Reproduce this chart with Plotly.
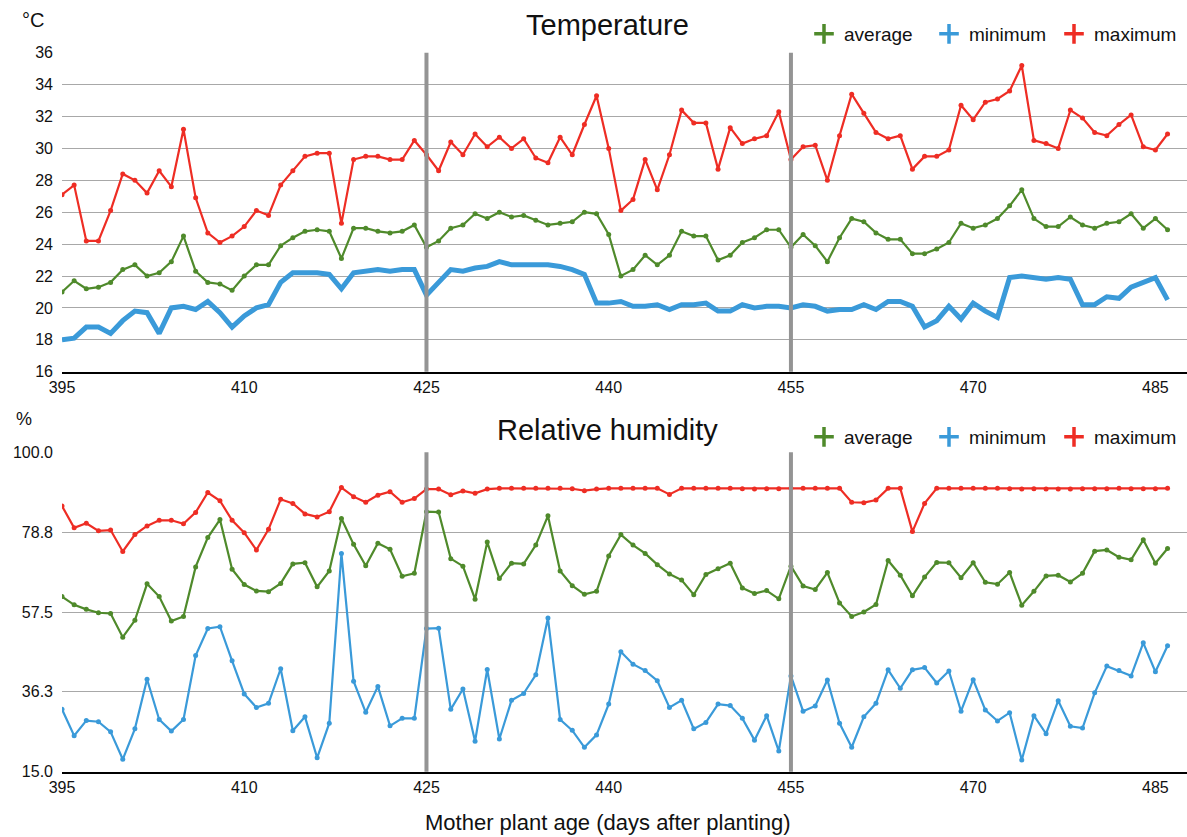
import plotly.graph_objects as go

# ---- data -------------------------------------------------------------
days = list(range(395, 487))

temp_max = [
    27.1, 27.7, 24.2, 24.2, 26.1, 28.4, 28.0, 27.2, 28.6, 27.6,
    31.2, 26.9, 24.7, 24.1, 24.5, 25.1, 26.1, 25.8, 27.7, 28.6,
    29.5, 29.7, 29.7, 25.3, 29.3, 29.5, 29.5, 29.3, 29.3, 30.5,
    29.6, 28.6, 30.4, 29.6, 30.9, 30.1, 30.7, 30.0, 30.6, 29.4,
    29.1, 30.7, 29.6, 31.5, 33.3, 30.0, 26.1, 26.8, 29.3, 27.4,
    29.6, 32.4, 31.6, 31.6, 28.7, 31.3, 30.3, 30.6, 30.8, 32.3,
    29.3, 30.1, 30.2, 28.0, 30.8, 33.4, 32.2, 31.0, 30.6, 30.8,
    28.7, 29.5, 29.5, 29.9, 32.7, 31.8, 32.9, 33.1, 33.6, 35.2,
    30.5, 30.3, 30.0, 32.4, 31.9, 31.0, 30.8, 31.5, 32.1, 30.1,
    29.9, 30.9,
]
temp_avg = [
    21.0, 21.7, 21.2, 21.3, 21.6, 22.4, 22.7, 22.0, 22.2, 22.9,
    24.5, 22.3, 21.6, 21.5, 21.1, 22.0, 22.7, 22.7, 23.9, 24.4,
    24.8, 24.9, 24.8, 23.1, 25.0, 25.0, 24.8, 24.7, 24.8, 25.2,
    23.8, 24.2, 25.0, 25.2, 25.9, 25.6, 26.0, 25.7, 25.8, 25.5,
    25.2, 25.3, 25.4, 26.0, 25.9, 24.6, 22.0, 22.4, 23.3, 22.7,
    23.3, 24.8, 24.5, 24.5, 23.0, 23.3, 24.1, 24.4, 24.9, 24.9,
    23.8, 24.6, 23.9, 22.9, 24.4, 25.6, 25.4, 24.7, 24.3, 24.3,
    23.4, 23.4, 23.7, 24.1, 25.3, 25.0, 25.2, 25.6, 26.4, 27.4,
    25.6, 25.1, 25.1, 25.7, 25.2, 25.0, 25.3, 25.4, 25.9, 25.0,
    25.6, 24.9,
]
temp_min = [
    18.0, 18.1, 18.8, 18.8, 18.4, 19.2, 19.8, 19.7, 18.4, 20.0,
    20.1, 19.9, 20.4, 19.7, 18.8, 19.5, 20.0, 20.2, 21.6, 22.2,
    22.2, 22.2, 22.1, 21.2, 22.2, 22.3, 22.4, 22.3, 22.4, 22.4,
    20.8, 21.6, 22.4, 22.3, 22.5, 22.6, 22.9, 22.7, 22.7, 22.7,
    22.7, 22.6, 22.4, 22.1, 20.3, 20.3, 20.4, 20.1, 20.1, 20.2,
    19.9, 20.2, 20.2, 20.3, 19.8, 19.8, 20.2, 20.0, 20.1, 20.1,
    20.0, 20.2, 20.1, 19.8, 19.9, 19.9, 20.2, 19.9, 20.4, 20.4,
    20.1, 18.8, 19.2, 20.1, 19.3, 20.3, 19.8, 19.4, 21.9, 22.0,
    21.9, 21.8, 21.9, 21.8, 20.2, 20.2, 20.7, 20.6, 21.3, 21.6,
    21.9, 20.5,
]

rh_max = [
    85.7, 79.9, 81.1, 79.1, 79.3, 73.6, 78.1, 80.4, 81.9, 81.9,
    81.0, 84.0, 89.3, 87.1, 81.9, 78.6, 74.0, 79.5, 87.5, 86.4,
    83.6, 82.8, 84.2, 90.6, 88.2, 86.7, 88.6, 89.5, 86.7, 87.7,
    90.2, 90.2, 88.7, 89.7, 89.1, 90.2, 90.4, 90.4, 90.4, 90.4,
    90.4, 90.4, 90.3, 89.8, 90.2, 90.4, 90.4, 90.4, 90.4, 90.4,
    88.8, 90.4, 90.4, 90.4, 90.4, 90.4, 90.3, 90.2, 90.3, 90.3,
    90.4, 90.4, 90.4, 90.4, 90.4, 86.7, 86.6, 87.3, 90.4, 90.4,
    78.9, 86.4, 90.4, 90.4, 90.4, 90.4, 90.4, 90.4, 90.3, 90.2,
    90.3, 90.2, 90.2, 90.2, 90.3, 90.3, 90.3, 90.4, 90.3, 90.3,
    90.3, 90.4,
]
rh_avg = [
    61.6, 59.4, 58.2, 57.3, 57.1, 50.8, 55.3, 65.0, 61.6, 55.1,
    56.3, 69.5, 77.3, 82.1, 68.9, 64.8, 63.1, 62.9, 65.1, 70.3,
    70.6, 64.2, 68.4, 82.4, 75.5, 69.8, 75.8, 74.2, 67.0, 67.8,
    84.2, 84.1, 71.7, 69.7, 60.9, 76.1, 66.4, 70.5, 70.3, 75.3,
    83.1, 68.4, 64.5, 62.2, 63.0, 72.4, 78.1, 75.3, 73.1, 70.1,
    67.6, 66.0, 62.1, 67.5, 69.0, 70.5, 63.9, 62.4, 63.2, 61.0,
    69.7, 64.4, 63.5, 68.0, 59.9, 56.3, 57.5, 59.5, 71.2, 67.3,
    61.8, 66.8, 70.7, 70.6, 66.6, 70.6, 65.4, 64.9, 68.0, 59.3,
    63.0, 67.1, 67.3, 65.5, 67.8, 73.7, 74.0, 72.1, 71.4, 76.7,
    70.5, 74.4,
]
rh_min = [
    31.6, 24.6, 28.6, 28.3, 25.6, 18.3, 26.4, 39.6, 28.9, 25.8,
    28.9, 45.9, 53.1, 53.6, 44.5, 35.7, 32.1, 33.2, 42.4, 25.9,
    29.6, 18.7, 27.9, 73.1, 39.1, 30.8, 37.7, 27.2, 29.2, 29.2,
    53.1, 53.2, 31.6, 37.0, 23.1, 42.2, 23.7, 34.0, 35.8, 40.8,
    55.9, 28.9, 26.0, 21.5, 24.8, 33.0, 46.9, 43.6, 41.9, 39.2,
    32.1, 34.0, 26.4, 28.1, 33.0, 32.6, 29.2, 23.4, 29.9, 20.5,
    40.5, 31.1, 32.5, 39.4, 27.9, 21.5, 29.6, 33.2, 42.1, 37.2,
    42.1, 42.7, 38.6, 41.8, 31.1, 39.5, 31.4, 28.5, 30.7, 18.1,
    29.9, 25.1, 33.9, 27.1, 26.6, 36.0, 43.1, 41.9, 40.5, 49.3,
    41.6, 48.5,
]

x_ticks = [395, 410, 425, 440, 455, 470, 485]
rh_tickvals = [15.0, 36.25, 57.5, 78.75, 100.0]
rh_ticktext = ["15.0", "36.3", "57.5", "78.8", "100.0"]
stage_days = [425, 455]
series_names = ["average", "minimum", "maximum"]

# ---- styling ----------------------------------------------------------
W, H = 1187, 837
FONT = "Liberation Sans, Arial, sans-serif"
TXT = "#111111"
GREEN = "#4f8a2b"
BLUE = "#3a9ad9"
RED = "#ee2d24"
GRID = "#a8a8a8"
colors = {"average": GREEN, "minimum": BLUE, "maximum": RED}


def py(px):
    """Convert a pixel row (from the top) to a paper fraction."""
    return 1 - px / H


fig = go.Figure()


def add_series(y, name, xa, ya, thick=False):
    if thick:
        fig.add_trace(go.Scatter(
            x=days, y=y, mode="lines", xaxis=xa, yaxis=ya,
            line=dict(color=colors[name], width=5), showlegend=False,
            name=name))
    else:
        fig.add_trace(go.Scatter(
            x=days, y=y, mode="lines+markers", xaxis=xa, yaxis=ya,
            line=dict(color=colors[name], width=2.2),
            marker=dict(color=colors[name], size=5),
            showlegend=False, name=name))


# temperature panel
add_series(temp_min, "minimum", "x", "y", thick=True)
add_series(temp_avg, "average", "x", "y")
add_series(temp_max, "maximum", "x", "y")
# humidity panel
add_series(rh_min, "minimum", "x2", "y2")
add_series(rh_avg, "average", "x2", "y2")
add_series(rh_max, "maximum", "x2", "y2")

# legend entries drawn as plus signs
for leg, xa, ya in (("legend", "x", "y"), ("legend2", "x2", "y2")):
    for name in series_names:
        fig.add_trace(go.Scatter(
            x=[None], y=[None], mode="markers", xaxis=xa, yaxis=ya,
            name=name, legend=leg,
            marker=dict(symbol="cross-thin", size=14,
                        line=dict(width=3.5, color=colors[name]))))

x_lo, x_hi = 395, 487.6
common_x = dict(
    range=[x_lo, x_hi], tickvals=x_ticks, showgrid=False, zeroline=False,
    showline=True, linecolor="#000000", linewidth=2, ticks="",
    tickfont=dict(size=16, color=TXT, family=FONT), automargin=False,
    fixedrange=True)
common_y = dict(
    showgrid=True, gridcolor=GRID, gridwidth=1, zeroline=False,
    showline=False, ticks="", ticklabelstandoff=8,
    tickfont=dict(size=16, color=TXT, family=FONT), automargin=False,
    fixedrange=True)

fig.update_layout(
    width=W, height=H,
    margin=dict(l=0, r=0, t=0, b=0),
    paper_bgcolor="white", plot_bgcolor="white",
    font=dict(family=FONT, color=TXT),
    xaxis=dict(domain=[62 / W, 1.0], anchor="y", **common_x),
    yaxis=dict(domain=[py(371.7), py(52.7)], anchor="x",
               range=[16, 36], dtick=2, tick0=16, **common_y),
    xaxis2=dict(domain=[62 / W, 1.0], anchor="y2", **common_x),
    yaxis2=dict(domain=[py(771.7), py(452.3)], anchor="x2",
                range=[15, 100], tickvals=rh_tickvals,
                ticktext=rh_ticktext, **common_y),
    legend=dict(orientation="h", x=804 / W, xanchor="left",
                y=py(34), yanchor="middle", bgcolor="rgba(0,0,0,0)",
                font=dict(size=19, color=TXT, family=FONT),
                itemwidth=30, entrywidth=80),
    legend2=dict(orientation="h", x=804 / W, xanchor="left",
                 y=py(437), yanchor="middle", bgcolor="rgba(0,0,0,0)",
                 font=dict(size=19, color=TXT, family=FONT),
                 itemwidth=30, entrywidth=80),
    showlegend=True,
)

# stage boundaries
for xa, ya in (("x", "y"), ("x2", "y2")):
    for d in stage_days:
        fig.add_shape(type="line", xref=xa, yref=f"{ya} domain",
                      x0=d, x1=d, y0=0, y1=1, layer="above",
                      line=dict(color="#949494", width=4))

annotations = [
    dict(text="°C", x=33 / W, y=py(20), size=20),
    dict(text="%", x=24 / W, y=py(419), size=18),
    dict(text="Temperature", x=608 / W, y=py(25), size=29),
    dict(text="Relative humidity", x=608 / W, y=py(430), size=29),
    dict(text="Mother plant age (days after planting)", x=608 / W,
         y=py(822), size=22),
]
for a in annotations:
    fig.add_annotation(text=a["text"], x=a["x"], y=a["y"], xref="paper",
                       yref="paper", xanchor="center", yanchor="middle",
                       showarrow=False,
                       font=dict(size=a["size"], color=TXT, family=FONT))

fig.write_html("out.html")
